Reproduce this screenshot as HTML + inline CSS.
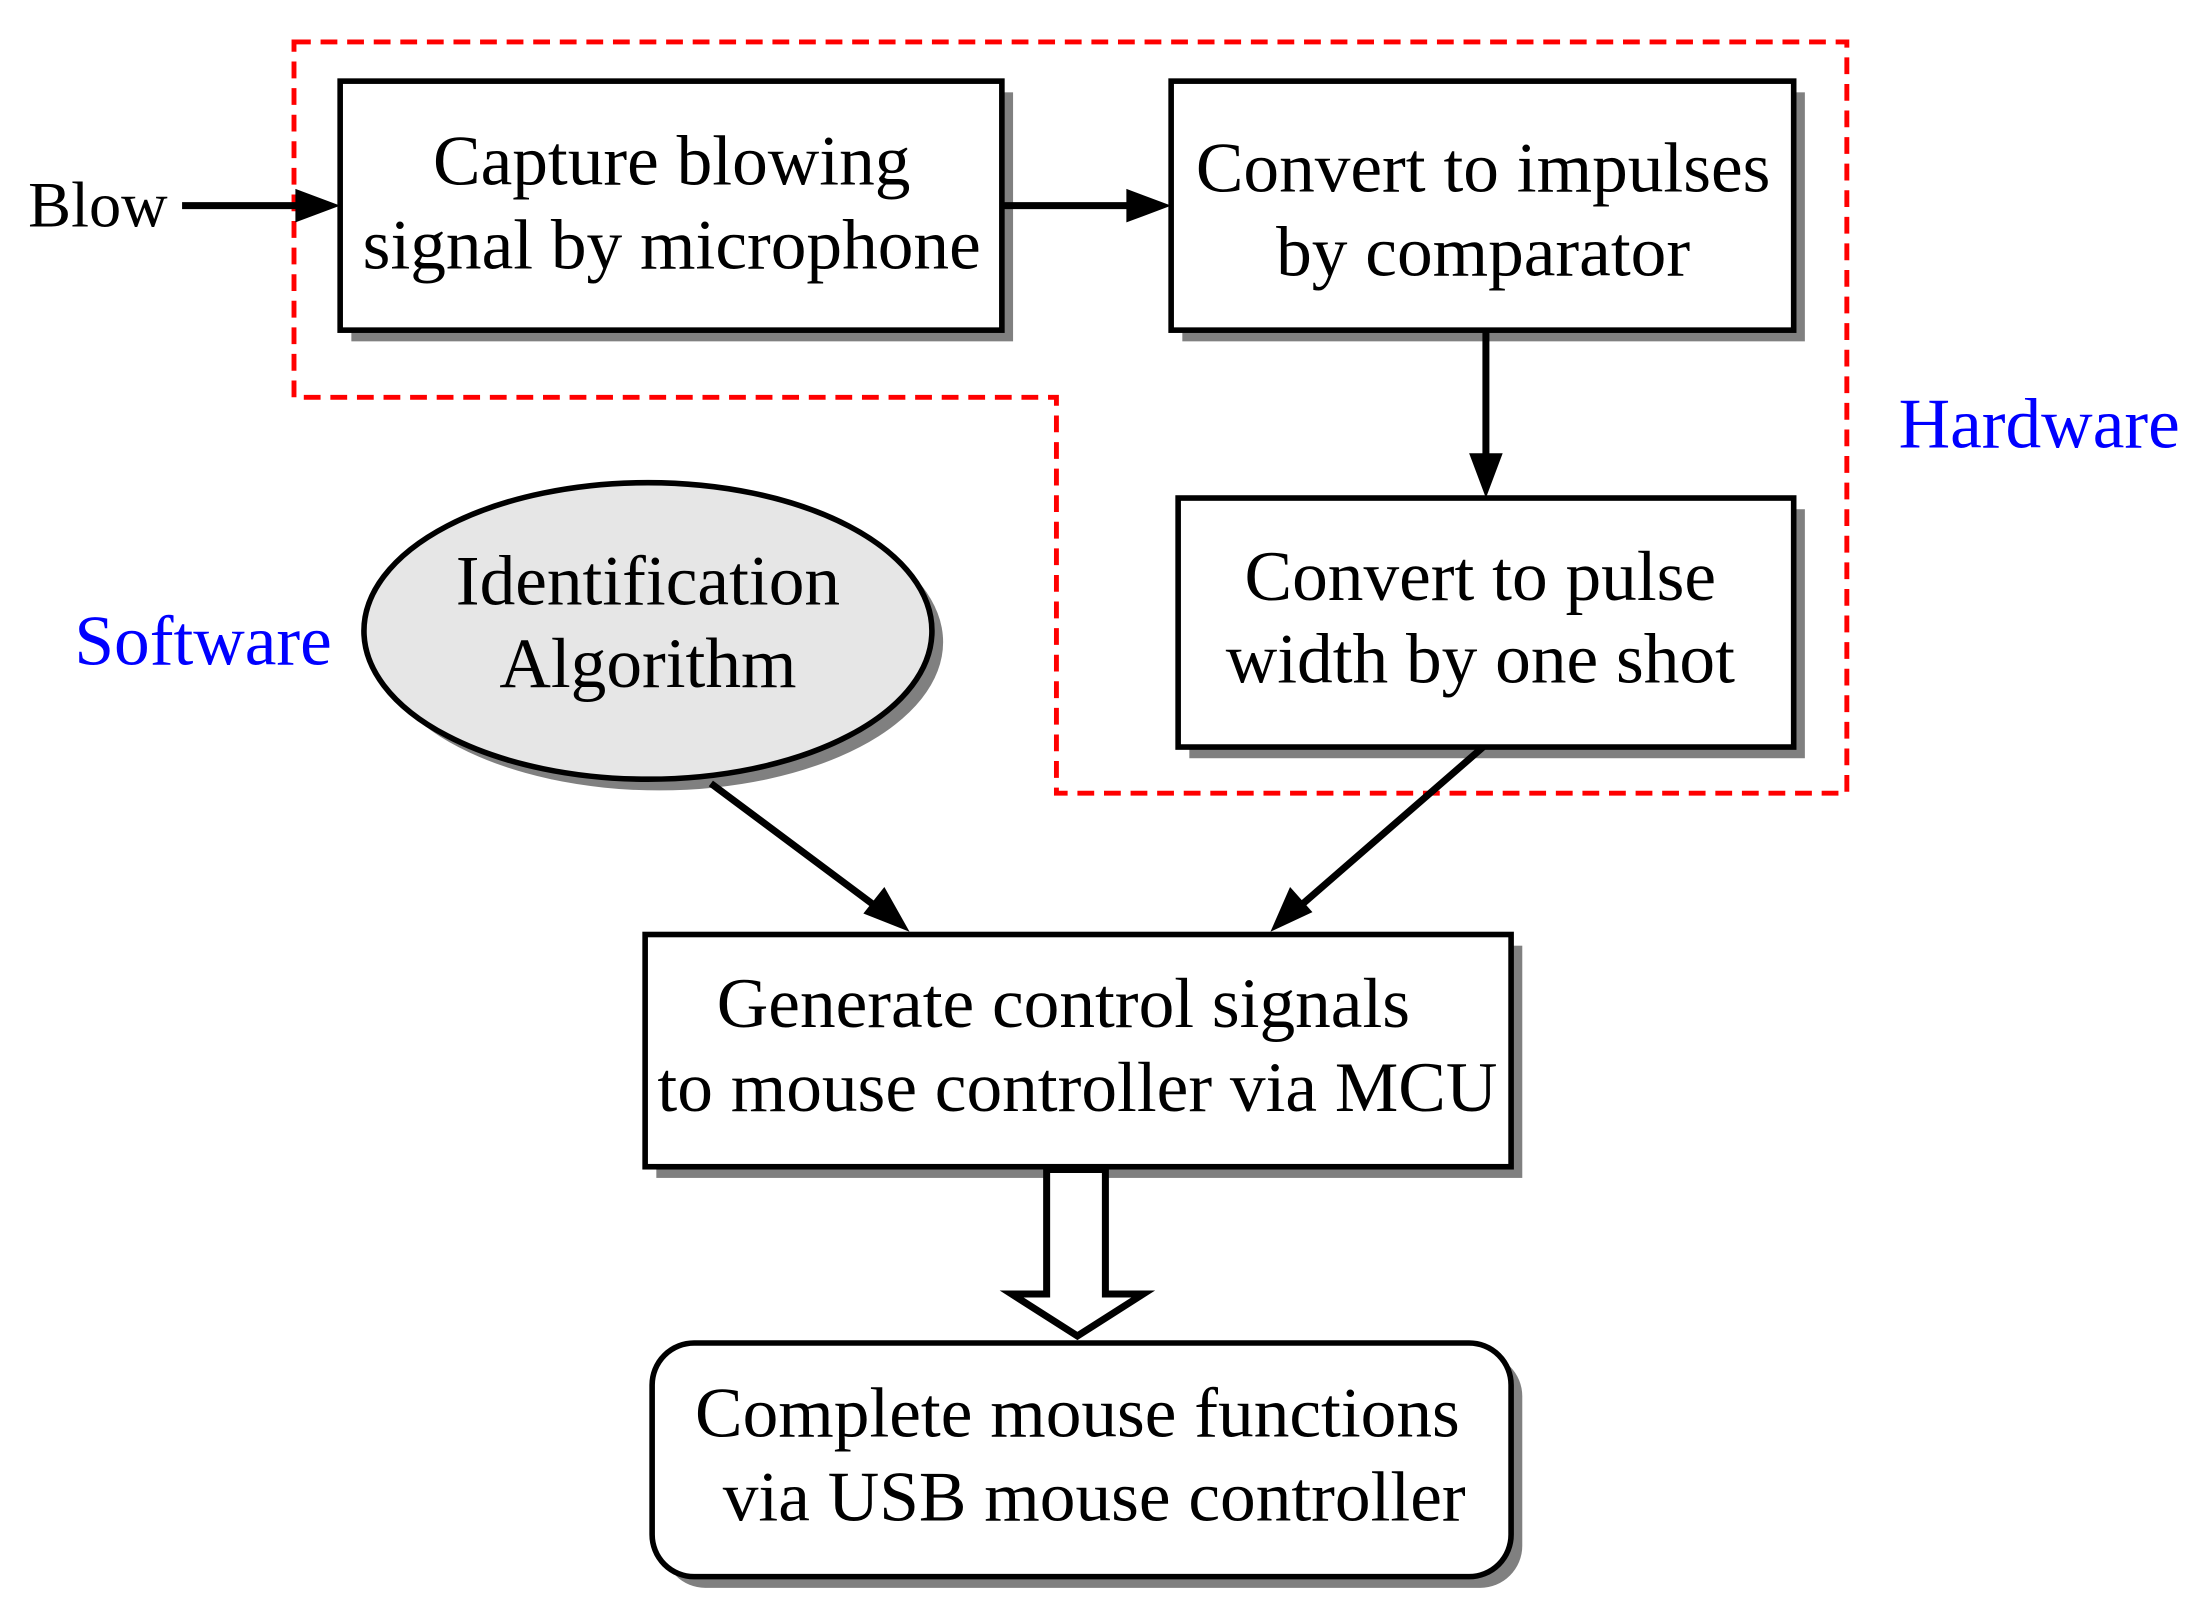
<!DOCTYPE html>
<html><head><style>html,body{margin:0;padding:0;background:#fff}svg{display:block}</style></head>
<body>
<svg width="2194" height="1613" viewBox="0 0 1568 1153" xmlns="http://www.w3.org/2000/svg" font-family="Liberation Serif, serif">
<rect width="1568" height="1153" fill="#fff"/>
<polygon points="210,30 1320,30 1320,567 755,567 755,284 210,284" fill="none" stroke="#f00" stroke-width="3.5" stroke-dasharray="12,7"/>
<g fill="#808080">
<rect x="251" y="66" width="473" height="178"/>
<rect x="845" y="66" width="445" height="178"/>
<rect x="850" y="364" width="440" height="178"/>
<ellipse cx="471" cy="459" rx="203" ry="106"/>
<rect x="469" y="676" width="619" height="166"/>
<rect x="474" y="968" width="614" height="167" rx="30"/>
</g>
<g fill="#fff" stroke="#000" stroke-width="4">
<rect x="243" y="58" width="473" height="178"/>
<rect x="837" y="58" width="445" height="178"/>
<rect x="842" y="356" width="440" height="178"/>
<ellipse cx="463" cy="451" rx="203" ry="106" fill="#e6e6e6"/>
<rect x="461" y="668" width="619" height="166"/>
<rect x="466" y="960" width="614" height="167" rx="30"/>
</g>
<g stroke="#000" stroke-width="5" fill="none">
<line x1="130" y1="147" x2="215" y2="147"/>
<line x1="716" y1="147" x2="809" y2="147"/>
<line x1="1062" y1="236" x2="1062" y2="328"/>
<line x1="508" y1="560" x2="626" y2="648"/>
<line x1="1060" y1="534" x2="930" y2="647"/>
</g>
<g fill="#000">
<polygon points="243,147 211,135 211,159"/>
<polygon points="837,147 805,135 805,159"/>
<polygon points="1062,356 1050,324 1074,324"/>
<polygon points="650,666 617,653 632,634"/>
<polygon points="908,666 922,634 938,652"/>
</g>
<polygon points="748,836 790,836 790,925 817,925 770,955 723,925 748,925" fill="#fff" stroke="#000" stroke-width="5"/>
<g font-size="51" text-anchor="middle" fill="#000">
<text x="480" y="132">Capture blowing</text>
<text x="480" y="192">signal by microphone</text>
<text x="1060" y="137">Convert to impulses</text>
<text x="1060" y="197">by comparator</text>
<text x="1058" y="429">Convert to pulse</text>
<text x="1058" y="488">width by one shot</text>
<text x="463" y="432">Identification</text>
<text x="463" y="491">Algorithm</text>
<text x="760" y="734">Generate control signals</text>
<text x="770" y="794">to mouse controller via MCU</text>
<text x="770" y="1027">Complete mouse functions</text>
<text x="782" y="1087">via USB mouse controller</text>
</g>
<text x="20" y="162" font-size="46">Blow</text>
<text x="1357" y="320" font-size="51" fill="#00f">Hardware</text>
<text x="53" y="475" font-size="51" fill="#00f">Software</text>
</svg>
</body></html>
